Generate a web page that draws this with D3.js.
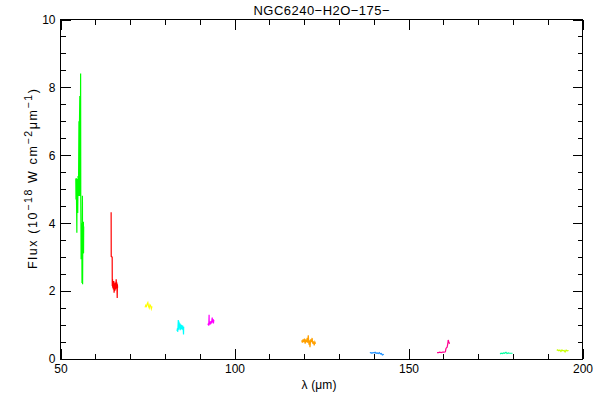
<!DOCTYPE html>
<html><head><meta charset="utf-8">
<script src="https://cdn.jsdelivr.net/npm/d3@7"></script>
<style>body{margin:0;background:#fff}svg{display:block}text{font-family:"Liberation Sans",Arial,sans-serif;fill:#000}</style>
</head><body>
<svg id="c" width="600" height="400"></svg>
<script>
const title = "NGC6240\u2212H2O\u2212175\u2212";
const xMajorTicks = [50, 100, 150, 200];
const yMajorTicks = [0, 2, 4, 6, 8, 10];
const seriesNames = ["s1","s2","s3","s4","s5","s6","s7","s8","s9","s10"];
const seriesColors = ["#00ff00","#ff0000","#ffff00","#00ffff","#ff00ff","#ffa000","#1e90ff","#ff0090","#00ffa0","#c8ff00"];
const wl1 = [54.40,54.45,54.50,54.60,54.70,54.75,54.85,54.95,55.05,55.10,55.20,55.30,55.35,55.45,55.55,55.60,55.70,55.78,55.82,55.88,55.92,56.00,56.08,56.12,56.18,56.25,56.30,56.35,56.42,56.50,56.58,56.62,56.66];
const fx1 = [5.30,4.70,5.33,4.75,3.72,5.10,5.30,4.30,5.39,4.80,5.35,7.00,4.80,6.90,7.75,4.80,5.50,8.41,4.80,3.95,2.94,3.95,3.00,4.00,2.24,3.50,4.81,2.20,3.80,3.10,4.04,3.12,3.90];
const wl2 = [64.55,64.58,64.85,64.88,64.95,65.0,65.1,65.2,65.3,65.4,65.5,65.6,65.7,65.8,65.9,66.0,66.1,66.2,66.3,66.35,66.4];
const fx2 = [4.32,3.02,3.00,2.15,2.35,2.10,2.12,2.05,2.30,1.95,2.10,2.00,2.25,2.05,2.10,2.35,2.15,2.25,1.80,2.20,2.10];
const wl3 = [74.3,74.5,74.7,74.9,75.1,75.3,75.5,75.7,75.9,76.1,76.3];
const fx3 = [1.52,1.58,1.55,1.62,1.66,1.55,1.50,1.60,1.57,1.48,1.55];
const wl4 = [83.5,83.6,83.7,83.85,83.95,84.05,84.15,84.3,84.4,84.55,84.7,84.85,85.0,85.1,85.25,85.35,85.4];
const fx4 = [0.82,0.90,0.80,1.15,0.86,1.10,0.90,1.05,0.85,1.02,0.88,1.00,0.86,0.98,0.90,0.72,0.95];
const wl5 = [92.4,92.5,92.6,92.7,92.75,92.9,93.0,93.1,93.25,93.4,93.5,93.6,93.7,93.85,93.95,94.05];
const fx5 = [1.00,1.05,0.98,1.30,1.02,1.05,1.10,1.02,1.12,1.05,1.15,1.22,1.08,1.18,1.05,1.15];
const wl6 = [119.3,119.5,119.7,119.9,120.1,120.3,120.5,120.7,120.9,121.0,121.2,121.4,121.5,121.7,121.9,122.1,122.3,122.5,122.7,122.9,123.1,123.3];
const fx6 = [0.55,0.48,0.58,0.50,0.60,0.45,0.55,0.52,0.62,0.48,0.70,0.42,0.55,0.35,0.58,0.50,0.62,0.45,0.52,0.40,0.50,0.45];
const wl7 = [138.9,139.2,139.5,139.8,140.1,140.4,140.7,141.0,141.3,141.6,141.9,142.2,142.5,142.9];
const fx7 = [0.18,0.19,0.17,0.19,0.18,0.20,0.17,0.18,0.16,0.19,0.15,0.16,0.12,0.14];
const wl8 = [158.2,158.6,159.0,159.4,159.8,160.2,160.6,160.75,160.9,161.1,161.3,161.4,161.6,161.8];
const fx8 = [0.19,0.19,0.20,0.19,0.20,0.20,0.21,0.30,0.33,0.35,0.45,0.56,0.50,0.45];
const wl9 = [176.3,176.6,177.0,177.3,177.6,178.0,178.3,178.7,179.0,179.4,179.9];
const fx9 = [0.15,0.17,0.16,0.18,0.17,0.20,0.16,0.18,0.17,0.17,0.17];
const wl10 = [192.6,192.9,193.2,193.5,193.8,194.1,194.4,194.7,195.0,195.3,195.6,196.0];
const fx10 = [0.25,0.27,0.24,0.26,0.22,0.27,0.24,0.25,0.21,0.26,0.24,0.25];

const wls = [wl1,wl2,wl3,wl4,wl5,wl6,wl7,wl8,wl9,wl10];
const fxs = [fx1,fx2,fx3,fx4,fx5,fx6,fx7,fx8,fx9,fx10];

const svg = d3.select("#c");
const L = 60.5, R = 582.5, T = 19.5, B = 359;
const x = d3.scaleLinear().domain([50,200]).range([L,R]);
const y = d3.scaleLinear().domain([0,10]).range([B,T]);

const xMinor = d3.range(50, 201, 10).filter(v => !xMajorTicks.includes(v));
const yMinor = d3.range(0, 10.01, 0.5).filter(v => !yMajorTicks.includes(v));

function styleAxis(g){ g.select(".domain").remove(); g.selectAll("line").attr("stroke","#000").attr("shape-rendering","crispEdges"); g.selectAll("text").attr("font-size",12).attr("font-family","Liberation Sans, Arial, sans-serif"); }

// bottom
svg.append("g").attr("transform",`translate(0,${B})`).call(d3.axisBottom(x).tickValues(xMajorTicks).tickSize(-10).tickPadding(5).tickFormat(d3.format("d"))).call(styleAxis);
svg.append("g").attr("transform",`translate(0,${B})`).call(d3.axisBottom(x).tickValues(xMinor).tickSize(-5).tickFormat("")).call(styleAxis);
// top
svg.append("g").attr("transform",`translate(0,${T})`).call(d3.axisTop(x).tickValues(xMajorTicks).tickSize(-10).tickFormat("")).call(styleAxis);
svg.append("g").attr("transform",`translate(0,${T})`).call(d3.axisTop(x).tickValues(xMinor).tickSize(-5).tickFormat("")).call(styleAxis);
// left
svg.append("g").attr("transform",`translate(${L},0)`).call(d3.axisLeft(y).tickValues(yMajorTicks).tickSize(-10).tickPadding(5).tickFormat(d3.format("d"))).call(styleAxis);
svg.append("g").attr("transform",`translate(${L},0)`).call(d3.axisLeft(y).tickValues(yMinor).tickSize(-5).tickFormat("")).call(styleAxis);
// right
svg.append("g").attr("transform",`translate(${R},0)`).call(d3.axisRight(y).tickValues(yMajorTicks).tickSize(-10).tickFormat("")).call(styleAxis);
svg.append("g").attr("transform",`translate(${R},0)`).call(d3.axisRight(y).tickValues(yMinor).tickSize(-5).tickFormat("")).call(styleAxis);

svg.append("rect").attr("x",L).attr("y",T).attr("width",R-L).attr("height",B-T)
  .attr("fill","none").attr("stroke","#000").attr("stroke-width",1).attr("shape-rendering","crispEdges");

const line = d3.line().x(d=>x(d[0])).y(d=>y(d[1]));
seriesNames.forEach((n,i)=>{
  const pts = wls[i].map((w,j)=>[w,fxs[i][j]]);
  svg.append("path").datum(pts).attr("d",line).attr("fill","none")
    .attr("stroke",seriesColors[i]).attr("stroke-width",1.2).attr("stroke-linejoin","miter");
});

svg.append("text").attr("x",(L+R)/2).attr("y",15).attr("text-anchor","middle").attr("font-size",13)
  .attr("textLength",136).attr("lengthAdjust","spacing").text(title);

svg.append("text").attr("x",319).attr("y",389).attr("text-anchor","middle").attr("font-size",12)
  .attr("textLength",35).attr("lengthAdjust","spacing").text("\u03bb (\u03bcm)");

const yl = svg.append("text").attr("transform","translate(37,179) rotate(-90)").attr("text-anchor","middle").attr("font-size",12.5)
  .attr("textLength",180).attr("lengthAdjust","spacing");
yl.append("tspan").text("Flux (10");
yl.append("tspan").attr("font-size",10.5).attr("dy",-5).text("\u221218");
yl.append("tspan").attr("dy",5).text(" W cm");
yl.append("tspan").attr("font-size",10.5).attr("dy",-5).text("\u22122");
yl.append("tspan").attr("dy",5).text("\u03bcm");
yl.append("tspan").attr("font-size",10.5).attr("dy",-5).text("\u22121");
yl.append("tspan").attr("dy",5).text(")");
</script>
</body></html>
